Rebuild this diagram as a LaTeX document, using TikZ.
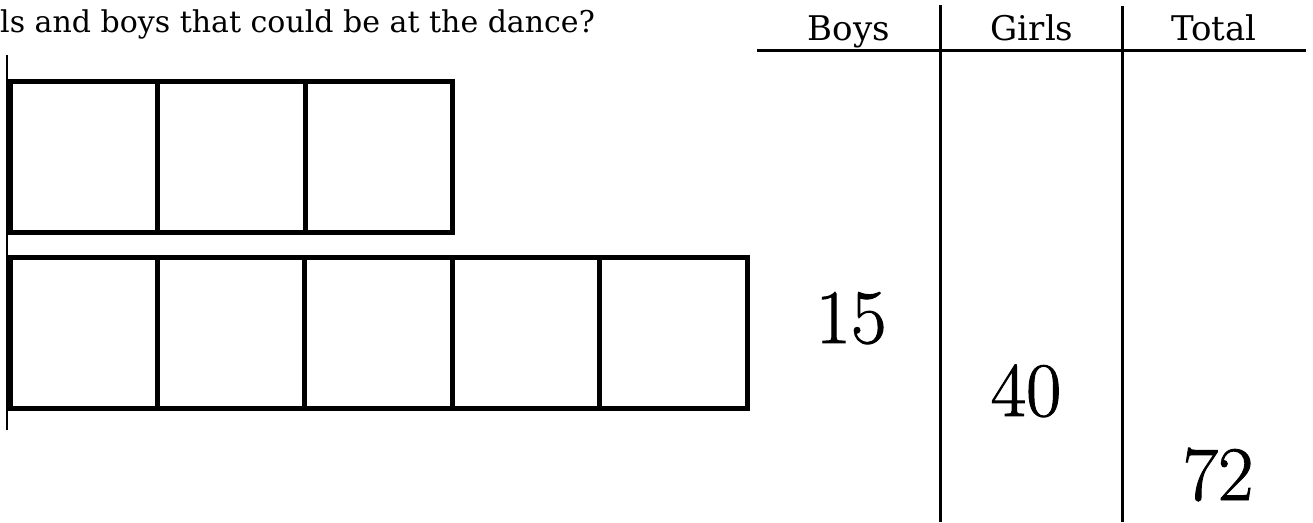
\documentclass[tikz,border=0pt]{standalone}
\usepackage{fontspec}
\newfontfamily\txtfont{DejaVu Serif}
\newfontfamily\numfont[FakeBold=1.2]{Latin Modern Roman}
\begin{document}
\begin{tikzpicture}[x=1pt,y=-1pt,
  cell/.style={draw=black,line width=5pt,minimum width=147.5pt,minimum height=151pt,inner sep=0pt,outer sep=0pt},
  rule/.style={draw=black,line width=2.5pt},
  head/.style={font=\txtfont\fontsize{34}{38}\selectfont,anchor=base,inner sep=0pt},
  num/.style={font=\numfont\fontsize{77}{82}\selectfont,anchor=base,inner sep=0pt}]
\useasboundingbox (0,0) rectangle (1313,522);
% question text
\node[font=\txtfont\fontsize{30}{34}\selectfont,anchor=base west,inner sep=0pt] (q) at (0,32) {ls and boys that could be at the dance?};
% left margin line
\draw[line width=2pt] (7,55) -- (7,430);
% top row
\node[cell] (a1) at (83.75,156.5) {};
\node[cell] (a2) at (231.25,156.5) {};
\node[cell] (a3) at (378.75,156.5) {};
% bottom row
\node[cell] (b1) at (83.75,332.5) {};
\node[cell] (b2) at (231.1,332.5) {};
\node[cell] (b3) at (378.5,332.5) {};
\node[cell] (b4) at (525.9,332.5) {};
\node[cell] (b5) at (673.3,332.5) {};
% table
\draw[rule] (757,50.5) -- (1306,50.5);
\draw[rule] (940.5,5) -- (940.5,522);
\draw[rule] (1122.5,6) -- (1122.5,522);
\node[head] (boys) at (849,40) {Boys};
\node[head] (girls) at (1032,40) {Girls};
\node[head] (total) at (1214,40) {Total};
\node[num] (n15) at (851,343) {15};
\node[num] (n40) at (1026,416) {40};
\node[num] (n72) at (1218,500) {72};
\end{tikzpicture}
\end{document}
